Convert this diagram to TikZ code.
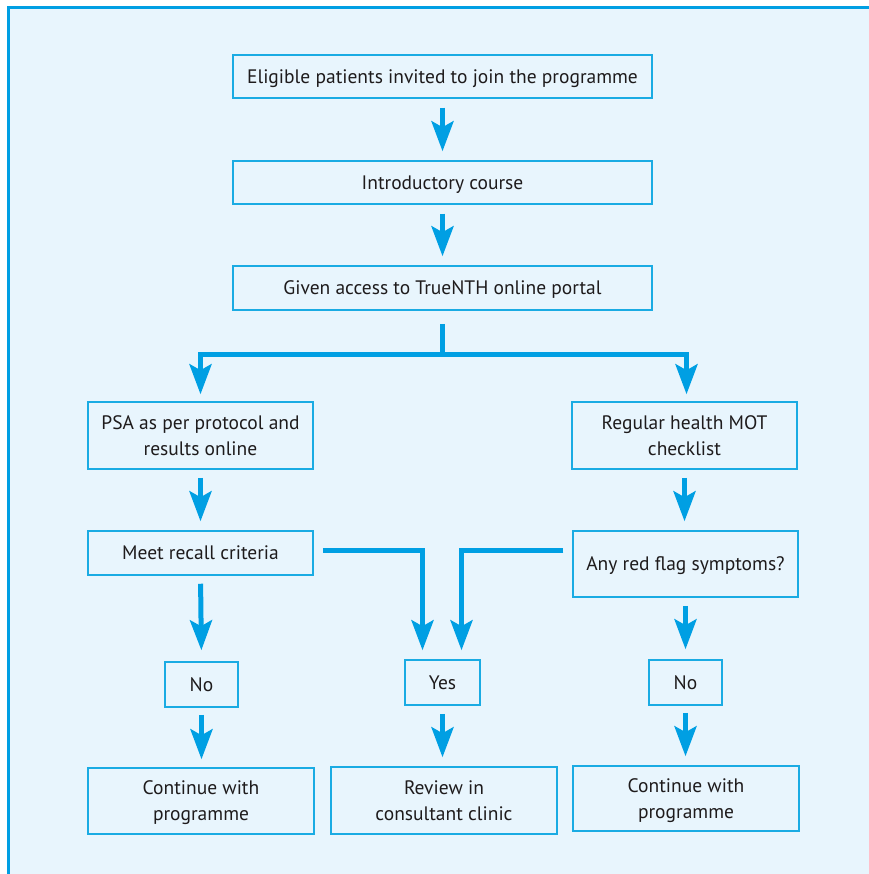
\documentclass[tikz,border=0pt]{standalone}
\usepackage{fontspec}
\setmainfont{PT Sans}
\usetikzlibrary{arrows.meta,calc}
\definecolor{bgfill}{HTML}{E8F5FD}
\definecolor{cyanline}{HTML}{1AABE3}
\definecolor{arrowc}{HTML}{009FE3}
\definecolor{txt}{HTML}{1E1B1C}
\begin{document}
\begin{tikzpicture}[x=1pt,y=-1pt,
  box/.style={draw=cyanline, line width=1.5pt, fill=bgfill, text=txt, align=center,
    font=\fontsize{19.5}{26}\selectfont, inner sep=0pt, text depth=0pt},
  arr/.style={draw=arrowc, line width=5pt,
    -{Stealth[length=30pt, width=22pt, inset=6pt]}},
  ]
\useasboundingbox (0,0) rectangle (868,874);
\fill[bgfill] (9,8) rectangle (869,875);
\draw[arrowc, line width=3pt] (8.5,875) -- (8.5,7.5) -- (869,7.5);

\node[box, minimum width=419pt, minimum height=43pt] (b1) at (442.5,76.5) {Eligible patients invited to join the programme};
\node[box, minimum width=419pt, minimum height=43pt] (b2) at (442.5,182.5) {Introductory course};
\node[box, minimum width=419pt, minimum height=44pt] (b3) at (442.5,288) {Given access to TrueNTH online portal};

\node[box, minimum width=225pt, minimum height=67pt] (psa) at (200.5,435.5) {PSA as per protocol and\\results online};
\node[box, minimum width=225pt, minimum height=67pt] (mot) at (684.5,435.5) {Regular health MOT\\checklist};

\node[box, minimum width=225pt, minimum height=44pt] (recall) at (200.5,553) {Meet recall criteria};
\node[box, minimum width=225pt, minimum height=66pt] (red) at (685.5,564) {Any red flag symptoms?};

\node[box, minimum width=73pt, minimum height=45pt] (noL) at (201.5,684.5) {No};
\node[box, minimum width=75pt, minimum height=45pt] (yes) at (442.5,682.5) {Yes};
\node[box, minimum width=73pt, minimum height=45pt] (noR) at (685.5,682.5) {No};

\node[box, minimum width=226pt, minimum height=66pt] (contL) at (201,801) {Continue with\\programme};
\node[box, minimum width=226pt, minimum height=67pt] (rev) at (444,800.5) {Review in\\consultant clinic};
\node[box, minimum width=226pt, minimum height=65pt] (contR) at (686,798.5) {Continue with\\programme};

\draw[arr, shorten <=9pt, shorten >=9pt] (b1) -- (b2);
\draw[arr, shorten <=9pt, shorten >=9pt] (b2) -- (b3);

\coordinate (j) at (442.5,354);
\draw[arr, shorten <=13pt, shorten >=7pt] (b3.south) -- (j) -| (psa.north);
\draw[arr, shorten >=7pt] (j) -| ([xshift=2pt]mot.north);

\draw[arr, shorten <=8pt, shorten >=9pt] (psa) -- (recall);
\draw[arr, shorten <=8pt, shorten >=9pt] (mot.south) -- (mot.south |- red.north);

\coordinate (yl) at ([xshift=-20pt]yes.north);
\coordinate (yr) at ([xshift=19pt]yes.north);
\draw[arr, shorten <=9pt, shorten >=9pt] ([yshift=3pt]recall.east) -| (yl);
\draw[arr, shorten <=9pt, shorten >=9pt] ([yshift=14pt]red.west) -| (yr);

\draw[arr, shorten <=8pt, shorten >=11pt] (recall.south) -- (noL.north);
\draw[arr, shorten <=8pt, shorten >=10pt] (red.south) -- (noR.north);

\draw[arr, shorten <=7pt, shorten >=8pt] (noL.south) -- (noL.south |- contL.north);
\draw[arr, shorten <=8pt, shorten >=9pt] (yes.south) -- (yes.south |- rev.north);
\draw[arr, shorten <=7pt, shorten >=9pt] (noR.south) -- (noR.south |- contR.north);
\end{tikzpicture}
\end{document}
